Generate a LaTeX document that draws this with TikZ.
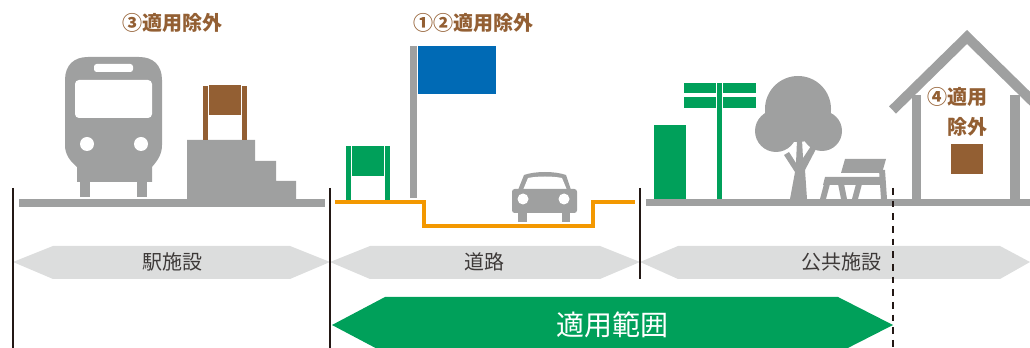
\documentclass[tikz,border=0pt]{standalone}
\usepackage{fontspec}
\setmainfont{Noto Sans CJK JP}
\definecolor{iconGray}{HTML}{9FA0A0}
\definecolor{signBrown}{HTML}{935F33}
\definecolor{signGreen}{HTML}{00A05A}
\definecolor{flagBlue}{HTML}{006AB5}
\definecolor{roadOrange}{HTML}{F39800}
\definecolor{bandGray}{HTML}{DCDDDD}
\definecolor{edgeInk}{HTML}{231815}
\definecolor{bandText}{HTML}{3E3A39}
\begin{document}
\begin{tikzpicture}[x=0.75pt,y=-0.75pt,
  gr/.style={fill=iconGray},
  br/.style={fill=signBrown},
  gn/.style={fill=signGreen},
  bandfill/.style={fill=bandGray},
  edge/.style={draw=edgeInk,line width=1.5pt},
  limit/.style={draw=edgeInk,line width=1.9pt,dash pattern=on 5pt off 4.5pt},
  note/.style={text=signBrown,font=\bfseries\fontsize{15pt}{22.5pt}\selectfont,inner sep=0pt},
  area/.style={text=bandText,font=\fontsize{15pt}{18pt}\selectfont,inner sep=0pt},
  scopetext/.style={text=white,font=\fontsize{21pt}{25pt}\selectfont,inner sep=0pt}]
\useasboundingbox (0,0) rectangle (1030,348);
\clip (0,0) rectangle (1030,348);

% ---------- station facilities ----------
\fill[gr] (19,199) rectangle (325,207);
% train
\fill[gr] (77,182) -- (77,167) .. controls (69,160) and (65,154) .. (65,145)
  -- (65,80) .. controls (65,65) and (74,57) .. (88,57) -- (139,57)
  .. controls (153,57) and (162,65) .. (162,80) -- (162,145)
  .. controls (162,154) and (158,160) .. (152,167) -- (152,182) -- cycle;
\fill[gr] (80,180) rectangle (90,197);
\fill[gr] (137,180) rectangle (147,197);
\fill[white,rounded corners=3pt] (75,80) rectangle (152,118);
\fill[white,rounded corners=2pt] (94,64) rectangle (133,72);
\fill[white] (87,144) circle (7);
\fill[white] (141,144) circle (7);
% platform stairs
\fill[gr] (187,199) -- (187,140) -- (255,140) -- (255,161) -- (276,161)
  -- (276,181) -- (296,181) -- (296,199) -- cycle;
% station sign
\fill[br] (203,86) rectangle (208,140);
\fill[br] (242,86) rectangle (247,140);
\fill[br] (209,85) rectangle (241,115);

% ---------- road ----------
\fill[gn] (346,146) rectangle (351,200);
\fill[gn] (385,146) rectangle (390,200);
\fill[gn] (352,146) rectangle (384,176);
\fill[gr] (410,46) rectangle (417,198);
\fill[flagBlue] (418,46) rectangle (496,94);
\draw[roadOrange,line width=3pt] (335,202) -- (424,202) -- (424,226)
  -- (593,226) -- (593,202) -- (635,202);
% car
\fill[gr] (518,190) -- (524,175) .. controls (535,171) and (555,171) .. (566,175)
  -- (571,190) -- cycle;
\fill[white] (523,190) -- (528,178) .. controls (538,176) and (552,176) .. (562,178)
  -- (567,190) -- cycle;
\fill[gr,rounded corners=2pt] (512,189) rectangle (577,213);
\fill[gr] (518,210) rectangle (527,222);
\fill[gr] (562,210) rectangle (570,222);
\fill[white] (523,199) circle (5.5);
\fill[white] (564,199) circle (5.5);

% ---------- public facilities ----------
\fill[gr] (646,199) rectangle (1030,206);
\fill[gn] (654,125) rectangle (686,199);
\fill[gn] (717,83) rectangle (722,199);
\fill[gn] (684,83) rectangle (716,93);
\fill[gn] (684,97) rectangle (716,108);
\fill[gn] (723,83) rectangle (756,93);
\fill[gn] (723,97) rectangle (756,108);
% tree
\fill[gr] (798,109) circle (33);
\fill[gr] (776,131) circle (21);
\fill[gr] (822,131) circle (20);
\fill[gr] (790,199) -- (795,172) -- (784,155) -- (789,152) -- (796,163)
  -- (797,140) -- (802,140) -- (803,158) -- (811,146) -- (816,149)
  -- (805,170) -- (807,199) -- cycle;
% bench
\fill[gr] (845,159) -- (886,159) -- (882,173) -- (841,173) -- cycle;
\fill[gr] (825,177) -- (882,177) -- (882,185) -- (823,185) -- cycle;
\fill[gr] (879,170) -- (885,170) -- (887,199) -- (881,199) -- cycle;
\fill[gr] (824,184) -- (830,184) -- (826,199) -- (820,199) -- cycle;
\fill[gr] (838,184) -- (844,184) -- (847,199) -- (841,199) -- cycle;
\fill[gr] (856,184) -- (862,184) -- (858,199) -- (852,199) -- cycle;
% house
\draw[iconGray,line width=7.5pt] (892.5,110) -- (967,37) -- (1041.5,110);
\fill[gr] (912,95) rectangle (921,199);
\fill[gr] (1010,95) rectangle (1020,199);
\fill[br] (951,144) rectangle (983,174);

% ---------- area bands ----------
\fill[bandfill] (13,262) -- (53,246) -- (290,246) -- (330,262) -- (290,279) -- (53,279) -- cycle;
\fill[bandfill] (330,262) -- (370,246) -- (600,246) -- (640,262) -- (600,279) -- (370,279) -- cycle;
\fill[bandfill] (640,262) -- (678,246) -- (1000,246) -- (1030,262) -- (1000,279) -- (678,279) -- cycle;
\fill[signGreen] (332,325) -- (385,297) -- (838,297) -- (893,325) -- (838,353) -- (385,353) -- cycle;

% boundaries
\draw[edge] (13,188) -- (13,348);
\draw[edge] (330,188) -- (330,348);
\draw[edge] (640,188) -- (640,279);
\draw[limit] (893,188) -- (893,348);

% ---------- labels ----------
\node[note] (ex3) at (172,23) {③適用除外};
\node[note] (ex12) at (473,23) {①②適用除外};
\node[note,anchor=east] (ex4a) at (988,97) {④適用};
\node[note,anchor=east] (ex4b) at (988,127) {除外};
\node[area] (station) at (172,262) {駅施設};
\node[area] (road) at (484,262) {道路};
\node[area] (public) at (841,262) {公共施設};
\node[scopetext] (scope) at (612,325) {適用範囲};
\end{tikzpicture}
\end{document}
